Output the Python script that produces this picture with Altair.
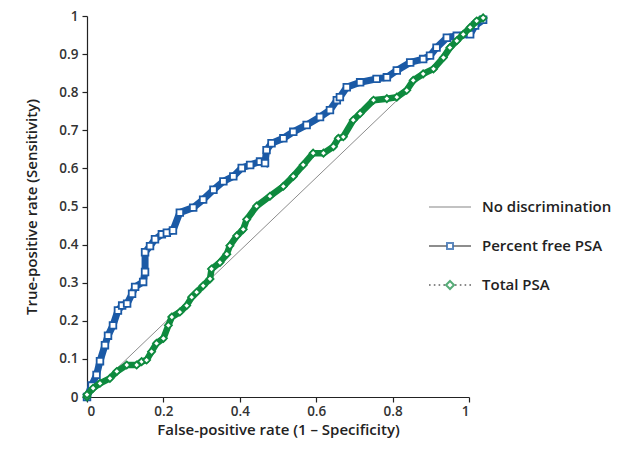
import altair as alt
import pandas as pd

series_names = ["No discrimination", "Percent free PSA", "Total PSA"]

diag_x = [0.0, 1.037]
diag_y = [0.0, 0.995]

free_x = [0.0, 0.012, 0.025, 0.034, 0.047, 0.055, 0.068, 0.081, 0.092, 0.105, 0.118, 0.126,
          0.147, 0.152, 0.152, 0.165, 0.178, 0.196, 0.209, 0.225, 0.243, 0.278, 0.304, 0.331,
          0.357, 0.383, 0.405, 0.427, 0.453, 0.466, 0.470, 0.483, 0.514, 0.540, 0.575, 0.610,
          0.636, 0.654, 0.662, 0.680, 0.715, 0.758, 0.785, 0.811, 0.846, 0.880, 0.898, 0.915,
          0.942, 0.968, 1.003, 1.016, 1.037]
free_y = [0.0, 0.030, 0.058, 0.094, 0.136, 0.161, 0.188, 0.227, 0.240, 0.245, 0.271, 0.289,
          0.302, 0.328, 0.380, 0.396, 0.414, 0.427, 0.431, 0.437, 0.484, 0.497, 0.518, 0.544,
          0.566, 0.579, 0.601, 0.609, 0.618, 0.614, 0.648, 0.666, 0.679, 0.696, 0.714, 0.735,
          0.753, 0.779, 0.787, 0.813, 0.826, 0.835, 0.839, 0.857, 0.878, 0.887, 0.896, 0.917,
          0.943, 0.948, 0.952, 0.975, 0.990]

total_x = [0.0, 0.0, 0.016, 0.034, 0.060, 0.078, 0.104, 0.130, 0.143, 0.156, 0.169, 0.182,
           0.200, 0.213, 0.222, 0.243, 0.261, 0.274, 0.287, 0.304, 0.322, 0.326, 0.348, 0.366,
           0.374, 0.392, 0.409, 0.418, 0.444, 0.479, 0.514, 0.540, 0.566, 0.592, 0.619, 0.645,
           0.658, 0.671, 0.697, 0.715, 0.750, 0.785, 0.811, 0.837, 0.854, 0.880, 0.907, 0.933,
           0.950, 0.968, 0.985, 1.003, 1.020, 1.037]
total_y = [0.0, 0.006, 0.023, 0.036, 0.049, 0.067, 0.084, 0.084, 0.093, 0.097, 0.119, 0.141,
           0.154, 0.188, 0.210, 0.223, 0.240, 0.262, 0.275, 0.292, 0.310, 0.336, 0.353, 0.375,
           0.397, 0.423, 0.440, 0.466, 0.501, 0.527, 0.553, 0.579, 0.609, 0.640, 0.640, 0.657,
           0.679, 0.683, 0.727, 0.744, 0.779, 0.783, 0.787, 0.805, 0.831, 0.848, 0.861, 0.891,
           0.917, 0.935, 0.952, 0.970, 0.987, 0.995]

x_ticks = [0, 0.2, 0.4, 0.6, 0.8, 1]
y_ticks = [0, 0.1, 0.2, 0.3, 0.4, 0.5, 0.6, 0.7, 0.8, 0.9, 1]

BLUE = "#1b5aa6"
GREEN = "#0e8a3e"
GRAY = "#8c8c8c"
FONT = "Open Sans"

diag_df = pd.DataFrame({"x": diag_x, "y": diag_y, "i": range(len(diag_x))})
free_df = pd.DataFrame({"x": free_x, "y": free_y, "i": range(len(free_x))})
total_df = pd.DataFrame({"x": total_x, "y": total_y, "i": range(len(total_x))})
legend_df = pd.DataFrame({"series": series_names, "series2": series_names})

xenc = alt.X("x:Q", scale=alt.Scale(domain=[0, 1], nice=False, zero=False),
             axis=alt.Axis(values=x_ticks, format="~g", title="False-positive rate (1 \u2013 Specificity)",
                           labelPadding=2, titlePadding=5))
yenc = alt.Y("y:Q", scale=alt.Scale(domain=[0, 1], nice=False, zero=False),
             axis=alt.Axis(values=y_ticks, format="~g", title="True-positive rate (Sensitivity)",
                           labelPadding=4, titlePadding=19))

diag = alt.Chart(diag_df).mark_line(color=GRAY, strokeWidth=1).encode(x=xenc, y=yenc, order="i:Q")

free_line = alt.Chart(free_df).mark_line(color=BLUE, strokeWidth=7).encode(x=xenc, y=yenc, order="i:Q")
free_pts = alt.Chart(free_df).mark_point(shape="square", size=44, filled=False, color=BLUE,
                                          fill="white", fillOpacity=1, strokeWidth=1.8).encode(x=xenc, y=yenc)

total_line = alt.Chart(total_df).mark_line(color=GREEN, strokeWidth=6.5).encode(x=xenc, y=yenc, order="i:Q")
total_pts = alt.Chart(total_df).mark_point(shape="diamond", size=50, filled=False, color=GREEN,
                                           fill="white", fillOpacity=1, strokeWidth=1.8).encode(x=xenc, y=yenc)

# Legend symbols: line part and marker part, overlaid
line_paths = [
    "M-1.05,0H1.05",
    "M-1.05,0H-0.17M0.17,0H1.05",
    "M-1.05,0H-0.97M-0.81,0H-0.73M-0.57,0H-0.49M-0.33,0H-0.25M0.25,0H0.33M0.49,0H0.57M0.73,0H0.81M0.97,0H1.05",
]
marker_paths = [
    "M0,0L0,0",
    "M-0.15,-0.15H0.15V0.15H-0.15Z",
    "M0,-0.2L0.2,0L0,0.2L-0.2,0Z",
]

LX, LY = 342, 170
common_leg = dict(orient="none", legendX=LX, legendY=LY, title=None, symbolSize=1600,
                  labelFont=FONT, labelFontSize=15, labelFontWeight=600, labelOffset=11,
                  rowPadding=10, padding=0, symbolFillColor="transparent", labelLimit=300)

leg_lines = alt.Chart(legend_df).transform_filter("false").mark_point(filled=False, size=1600).encode(
    x=xenc, y=yenc,
    color=alt.Color("series:N", scale=alt.Scale(domain=series_names, range=[GRAY, "#2a2a2a", "#222222"]),
                    legend=alt.Legend(labelColor="#222222", symbolStrokeWidth=1.5, **common_leg)),
    shape=alt.Shape("series:N", scale=alt.Scale(domain=series_names, range=line_paths),
                    legend=alt.Legend(labelColor="#222222", symbolStrokeWidth=1.5, **common_leg)),
)
leg_marks = alt.Chart(legend_df).transform_filter("false").mark_point(filled=False, size=1600).encode(
    x=xenc, y=yenc,
    color=alt.Color("series2:N", scale=alt.Scale(domain=series_names, range=["transparent", BLUE, GREEN]),
                    legend=alt.Legend(labelColor="transparent", symbolStrokeWidth=2, **common_leg)),
    shape=alt.Shape("series2:N", scale=alt.Scale(domain=series_names, range=marker_paths),
                    legend=alt.Legend(labelColor="transparent", symbolStrokeWidth=2, **common_leg)),
)

chart = alt.layer(diag, free_line, free_pts, total_line, total_pts, leg_lines, leg_marks).resolve_scale(
    color="independent", shape="independent"
).resolve_legend(color="independent", shape="independent").properties(
    width=382, height=381,
    autosize=alt.AutoSizeParams(type="none"),
    padding={"left": 79, "top": 8, "right": 152, "bottom": 43},
).configure_view(stroke=None).configure_axis(
    grid=False, domainColor="#222222", tickColor="#222222", tickSize=5, domainWidth=1.2, tickWidth=1.2,
    labelFont=FONT, labelFontSize=13.5, labelFontWeight=600, labelColor="#333333",
    titleFont=FONT, titleFontSize=15, titleFontWeight=600, titleColor="#222222",
)

chart.save("out.html", embed_options={"renderer": "svg", "actions": False})
